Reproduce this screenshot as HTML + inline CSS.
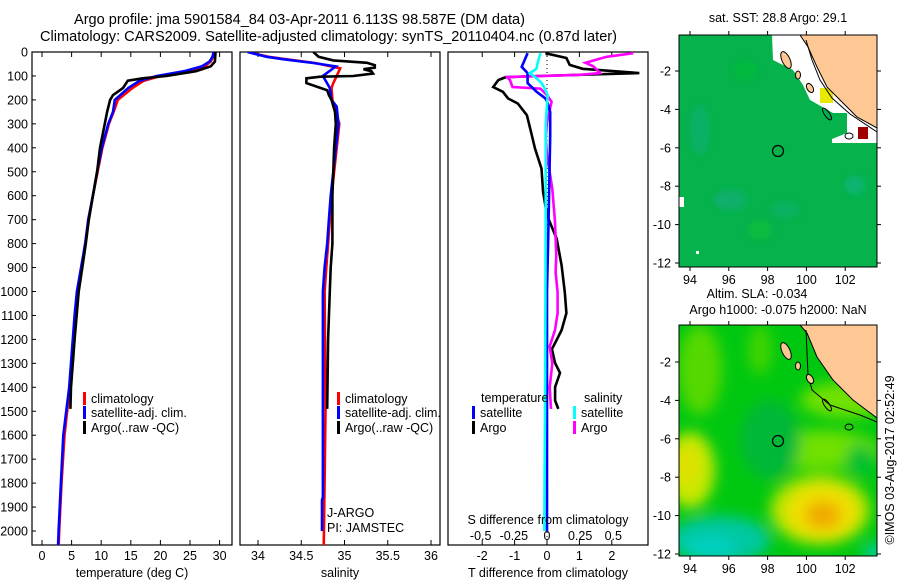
<!DOCTYPE html>
<html><head><meta charset="utf-8"><style>
html,body{margin:0;padding:0;background:#fff;}
svg{display:block;font-family:"Liberation Sans",sans-serif;}
text{fill:#000;font-size:12.5px;}
</style></head><body>
<svg id="fig" width="900" height="580" viewBox="0 0 900 580" xmlns="http://www.w3.org/2000/svg">
<defs>
<filter id="blur6" x="-50%" y="-50%" width="200%" height="200%"><feGaussianBlur stdDeviation="7"/></filter>
<filter id="blur3" x="-50%" y="-50%" width="200%" height="200%"><feGaussianBlur stdDeviation="3"/></filter>
<clipPath id="clipM1"><rect x="679" y="35" width="198" height="232"/></clipPath>
<clipPath id="clipM2"><rect x="679" y="325" width="198" height="231"/></clipPath>
<clipPath id="clipP1"><rect x="32" y="52" width="200" height="493"/></clipPath>
<clipPath id="clipP2"><rect x="240" y="52" width="200" height="493"/></clipPath>
<clipPath id="clipP3"><rect x="448" y="52" width="200" height="493"/></clipPath>
</defs>
<text x="74" y="24" textLength="451" lengthAdjust="spacingAndGlyphs" style="font-size:14.5px">Argo profile: jma 5901584_84 03-Apr-2011 6.113S 98.587E (DM data)</text>
<text x="40" y="41" textLength="577" lengthAdjust="spacingAndGlyphs" style="font-size:14.5px">Climatology: CARS2009. Satellite-adjusted climatology: synTS_20110404.nc (0.87d later)</text>

<!-- Map 1 -->
<g>
<text x="778" y="22" text-anchor="middle">sat. SST: 28.8 Argo: 29.1</text>
<g clip-path="url(#clipM1)">
<rect x="679" y="35" width="198" height="232" fill="#05b24c"/>
<g filter="url(#blur3)" opacity="0.7">
<ellipse cx="700" cy="130" rx="10" ry="25" fill="#10b070"/>
<ellipse cx="730" cy="200" rx="16" ry="10" fill="#12ae78"/>
<ellipse cx="785" cy="210" rx="14" ry="8" fill="#0fb06a"/>
<ellipse cx="855" cy="185" rx="10" ry="9" fill="#10b682"/>
<ellipse cx="760" cy="230" rx="12" ry="10" fill="#09c03a"/>
<ellipse cx="745" cy="70" rx="12" ry="10" fill="#06bc38"/>
</g>
<polygon points="772,35 773,60 793,70 803,85 810,100 833,113 847,113 847,133 832,139 832,143 877,143 877,35" fill="#ffffff"/>
<rect x="820" y="88" width="13" height="15" fill="#e8e800"/>
<rect x="858" y="127" width="10" height="12" fill="#a00000"/>
<polygon points="800,35 808,47 817,67 827,87 840,100 857,117 877,128 877,35" fill="#fdc894" stroke="#000" stroke-width="1"/>
<path d="M806,40 L812,60 L820,80 L832,98 L850,114 L877,132" fill="none" stroke="#000" stroke-width="1"/>
<ellipse cx="786" cy="60" rx="4" ry="9" transform="rotate(-25 786 60)" fill="#fdc894" stroke="#000" stroke-width="1"/>
<ellipse cx="798" cy="75" rx="2.5" ry="4" fill="#fdc894" stroke="#000" stroke-width="1"/>
<ellipse cx="810" cy="88" rx="3" ry="5" transform="rotate(-30 810 88)" fill="#fdc894" stroke="#000" stroke-width="1"/>
<ellipse cx="827" cy="114" rx="2.5" ry="7" transform="rotate(-35 827 114)" fill="#00b050" stroke="#000" stroke-width="1"/>
<ellipse cx="849" cy="136" rx="4" ry="3" fill="#fff" stroke="#000" stroke-width="1"/>
<rect x="679" y="197" width="5" height="10" fill="#fff"/>
<rect x="696" y="251" width="3" height="3" fill="#fff"/>
<circle cx="778" cy="151" r="5.5" fill="none" stroke="#000" stroke-width="1.2"/>
</g>
<rect x="679" y="35" width="198" height="232" fill="none" stroke="#000" stroke-width="1"/>
<g id="m1ticks"></g>
</g>

<!-- Map 2 -->
<g>
<text x="757" y="298" text-anchor="middle">Altim. SLA: -0.034</text>
<text x="778" y="314" text-anchor="middle">Argo h1000: -0.075 h2000: NaN</text>
<g clip-path="url(#clipM2)">
<rect x="679" y="325" width="198" height="231" fill="#00c810"/>
<g filter="url(#blur6)">
<ellipse cx="700" cy="370" rx="22" ry="45" fill="#55d800"/>
<ellipse cx="760" cy="350" rx="12" ry="25" fill="#40d400"/>
<ellipse cx="845" cy="400" rx="45" ry="18" fill="#70e000"/>
<ellipse cx="820" cy="450" rx="60" ry="20" fill="#70e000"/>
<ellipse cx="770" cy="440" rx="30" ry="40" fill="#00b838"/>
<ellipse cx="860" cy="460" rx="14" ry="16" fill="#00c030"/>
<ellipse cx="690" cy="470" rx="25" ry="38" fill="#c8e800"/>
<ellipse cx="686" cy="465" rx="12" ry="20" fill="#e0e000"/>
<ellipse cx="820" cy="510" rx="50" ry="35" fill="#b8e400"/>
<ellipse cx="822" cy="512" rx="36" ry="26" fill="#f0e000"/>
<ellipse cx="823" cy="515" rx="18" ry="14" fill="#f0a800"/>
<ellipse cx="720" cy="540" rx="50" ry="24" fill="#00c8a0"/>
<ellipse cx="710" cy="548" rx="26" ry="12" fill="#00d0c0"/>
<ellipse cx="875" cy="552" rx="12" ry="8" fill="#00d0b0"/>
</g>
<polygon points="800,325 807,333 817,357 833,380 853,400 877,418 877,325" fill="#fdc894" stroke="#000" stroke-width="1"/>
<path d="M806,330 L808,375 L812,390 L830,405 L860,415 L877,422" fill="none" stroke="#000" stroke-width="1"/>
<ellipse cx="786" cy="351" rx="4" ry="9" transform="rotate(-25 786 351)" fill="#fdc894" stroke="#000" stroke-width="1"/>
<ellipse cx="798" cy="366" rx="2.5" ry="4" fill="#fdc894" stroke="#000" stroke-width="1"/>
<ellipse cx="810" cy="379" rx="3" ry="5" transform="rotate(-30 810 379)" fill="#fdc894" stroke="#000" stroke-width="1"/>
<ellipse cx="827" cy="405" rx="2.5" ry="7" transform="rotate(-35 827 405)" fill="none" stroke="#000" stroke-width="1"/>
<ellipse cx="849" cy="427" rx="4" ry="3" fill="none" stroke="#000" stroke-width="1"/>
<circle cx="778" cy="441" r="5.5" fill="none" stroke="#000" stroke-width="1.2"/>
</g>
<rect x="679" y="325" width="198" height="231" fill="none" stroke="#000" stroke-width="1"/>
<g id="m2ticks"></g>
</g>
<text transform="translate(894,460) rotate(-90)" text-anchor="middle">©IMOS 03-Aug-2017 02:52:49</text>

<g id="plots"></g>
</svg>
<script>
// ---- data ----
const depthTicks = [0,100,200,300,400,500,600,700,800,900,1000,1100,1200,1300,1400,1500,1600,1700,1800,1900,2000];
const tempTicks = [0,5,10,15,20,25,30];
const salTicks = [34,34.5,35,35.5,36];
const salTickLabels = ["34","34.5","35","35.5","36"];
const tdTicks = [-2,-1,0,1,2];
const sdTicks = [-0.5,-0.25,0,0.25,0.5];
const sdTickLabels = ["-0.5","-0.25","0","0.25","0.5"];

const tempDepth = [0,20,40,60,80,100,120,150,200,250,300,400,500,600,700,800,900,1000,1100,1200,1300,1400,1600,1800,2000,2070];
const tempSat = [29,28.8,28.3,27,24,19.4,16.5,14.6,12.3,12,11.2,10.1,9.3,8.6,7.8,7.3,6.6,5.9,5.5,5.2,4.9,4.6,3.6,3.2,2.8,2.7];
const tempClim = [29.1,28.9,28.5,27.5,25,20,17.2,15.3,12.8,12.1,11.3,10.2,9.4,8.6,7.9,7.3,6.7,6.0,5.6,5.3,5.0,4.7,3.8,3.3,2.9,2.8];
const argoTDepth = [0,40,60,80,100,110,120,150,180,200,250,300,400,500,600,700,800,900,1000,1200,1400,1490];
const argoT = [29.3,29.2,28.5,26,21,17,14.5,13.7,12,11.5,11,10.6,9.8,9.3,8.6,7.9,7.4,6.8,6.2,5.5,4.9,4.8];

const salSatDepth = [0,20,30,46,60,100,150,200,228,300,400,500,600,700,800,900,1000,1500,1860,1870,2000];
const salSat = [33.88,34.1,34.29,34.64,34.9,34.75,34.83,34.85,34.91,34.93,34.9,34.87,34.84,34.82,34.8,34.77,34.75,34.75,34.75,34.74,34.74];
const salClimDepth = [0,20,30,46,68,100,130,150,200,300,400,500,600,700,800,900,1000,1500,2080];
const salClim = [33.88,34.12,34.32,34.66,34.95,34.91,34.87,34.85,34.86,34.94,34.91,34.88,34.85,34.83,34.81,34.79,34.77,34.78,34.76];
const argoSDepth = [0,20,35,45,55,65,72,80,90,100,103,110,130,150,160,180,200,250,300,400,500,600,700,800,900,1000,1200,1490];
const argoS = [34.64,34.7,34.87,35.26,35.35,35.35,35.22,35.31,35.33,35.1,34.72,34.56,34.56,34.72,34.8,34.82,34.85,34.89,34.9,34.88,34.87,34.86,34.86,34.86,34.84,34.83,34.81,34.8];

const dTSatDepth = [5,62,88,130,166,193,205,250,350,700,1000,1500,2000];
const dTSat = [-0.6,-0.78,-0.6,-0.6,-0.32,-0.06,0,0.1,0.1,0.05,0,0,0];
const dTArgoDepth = [5,25,54,70,88,100,105,117,146,166,194,215,264,320,403,487,585,682,780,891,1003,1090,1161,1215,1240,1299,1340,1399,1455,1490];
const dTArgo = [-0.05,0.6,0.7,1.1,2.85,-0.25,-1.27,-1.5,-1.66,-1.36,-1.2,-0.9,-0.62,-0.52,-0.37,-0.17,-0.12,0,0.3,0.45,0.55,0.6,0.45,0.25,0.15,0.25,0.4,0.25,0.25,0.35];
const dSSatDepth = [5,45,70,88,105,130,150,180,300,700,1500,2000];
const dSSat = [-0.05,-0.07,-0.08,-0.13,-0.09,-0.04,-0.02,0.005,-0.01,-0.01,-0.015,-0.02];
const dSArgoDepth = [5,20,45,60,76,88,95,105,117,146,153,180,208,292,362,431,570,710,850,920,1003,1090,1161,1229,1300,1400,1490];
const dSArgo = [0.65,0.45,0.29,0.35,0.38,0.4,0.25,-0.3,-0.28,-0.26,-0.05,0,0.035,0,-0.01,0,0.04,0.06,0.07,0.065,0.08,0.08,0.06,0.02,0.04,0.02,0.03];

const lonTicks = [94,96,98,100,102];
const latTicks = [-2,-4,-6,-8,-10,-12];

// ---- scales ----
const NS = "http://www.w3.org/2000/svg";
const yD = d => 52 + 0.2395 * d;
const xT = t => 42 + 5.92 * t;
const xS = s => 258 + 86.5 * (s - 34);
const xDT = v => 547 + 32.4 * v;
const xDS = v => 547 + 132.6 * v;
const lonX = lon => 690 + 19.4 * (lon - 94);
const latY1 = lat => 71 + (-2 - lat) * 19.2;
const latY2 = lat => 362 + (-2 - lat) * 19.2;

const root = document.getElementById('plots');
function mk(tag, attrs, parent) {
  const e = document.createElementNS(NS, tag);
  for (const k in attrs) e.setAttribute(k, attrs[k]);
  (parent || root).appendChild(e);
  return e;
}
function txt(x, y, s, anchor, parent) {
  const t = mk('text', {x: x, y: y, 'text-anchor': anchor || 'middle'}, parent);
  t.textContent = s;
  return t;
}
function series(depths, vals, xf, color, clip, name) {
  const pts = depths.map((d, i) => xf(vals[i]).toFixed(1) + ',' + yD(d).toFixed(1)).join(' ');
  const p = mk('polyline', {points: pts, fill: 'none', stroke: color, 'stroke-width': 2.6, 'stroke-linejoin': 'miter', 'clip-path': 'url(#' + clip + ')'});
  
  
}
function frame(x, name) {
  const r = mk('rect', {x: x, y: 52, width: 200, height: 493, fill: 'none', stroke: '#000', 'stroke-width': 1.2});
  
  
}
function xTicks(vals, labels, xf) {
  vals.forEach((v, i) => {
    const x = xf(v);
    mk('line', {x1: x, y1: 52, x2: x, y2: 57, stroke: '#000'});
    mk('line', {x1: x, y1: 545, x2: x, y2: 540, stroke: '#000'});
    const t = txt(x, 560, labels[i]);
    
    
  });
}

// Panel 1
frame(32, 'temperature-panel');
depthTicks.forEach(d => {
  mk('line', {x1: 32, y1: yD(d), x2: 36, y2: yD(d), stroke: '#000'});
  const t = txt(28, yD(d) + 4.5, String(d), 'end');
  
  
});
xTicks(tempTicks, tempTicks.map(String), xT);
series(tempDepth, tempClim, xT, '#ff0000', 'clipP1', 'temp-climatology-line');
series(tempDepth, tempSat, xT, '#0000ff', 'clipP1', 'temp-satellite-line');
series(argoTDepth, argoT, xT, '#000000', 'clipP1', 'temp-argo-line');
const xt1 = txt(132, 577, 'temperature (deg C)');



// Panel 2
frame(240, 'salinity-panel');
xTicks(salTicks, salTickLabels, xS);
series(salClimDepth, salClim, xS, '#ff0000', 'clipP2', 'sal-climatology-line');
series(salSatDepth, salSat, xS, '#0000ff', 'clipP2', 'sal-satellite-line');
series(argoSDepth, argoS, xS, '#000000', 'clipP2', 'sal-argo-line');
const xt2 = txt(340, 577, 'salinity');


const ja = txt(327, 517, 'J-ARGO', 'start');


const pi = txt(327, 532, 'PI: JAMSTEC', 'start');



// Panel 3
frame(448, 'difference-panel');
xTicks(tdTicks, tdTicks.map(String), xDT);
mk('line', {x1: xDT(0), y1: 52, x2: xDT(0), y2: 545, stroke: '#000', 'stroke-width': 1, 'stroke-dasharray': '1,3'});
series(dTArgoDepth, dTArgo, xDT, '#000000', 'clipP3', 'tdiff-argo-line');
series(dSArgoDepth, dSArgo, xDS, '#ff00ff', 'clipP3', 'sdiff-argo-line');
series(dTSatDepth, dTSat, xDT, '#0000ff', 'clipP3', 'tdiff-satellite-line');
series(dSSatDepth, dSSat, xDS, '#00ffff', 'clipP3', 'sdiff-satellite-line');
sdTicks.forEach((v, i) => {
  const t = txt(xDS(v), 540, sdTickLabels[i]);
  
  
});
const sdt = txt(548, 524, 'S difference from climatology');


const tdt = txt(548, 577, 'T difference from climatology');



// Legends
function legendItem(x, y, color, label, name) {
  const b = mk('rect', {x: x, y: y - 10, width: 3, height: 13, fill: color});
  
  
  const t = txt(x + 8, y + 1, label, 'start');
  
  
}
legendItem(83, 402, '#ff0000', 'climatology', 'legend-climatology');
legendItem(83, 416, '#0000ff', 'satellite-adj. clim.', 'legend-satellite-adj');
legendItem(83, 431, '#000000', 'Argo(..raw -QC)', 'legend-argo');
legendItem(337, 402, '#ff0000', 'climatology', 'legend-climatology-sal');
legendItem(337, 416, '#0000ff', 'satellite-adj. clim.', 'legend-satellite-adj-sal');
legendItem(337, 431, '#000000', 'Argo(..raw -QC)', 'legend-argo-sal');
const lt = txt(481, 402, 'temperature', 'start');


const ls = txt(584, 402, 'salinity', 'start');


legendItem(472, 416, '#0000ff', 'satellite', 'legend-t-satellite');
legendItem(472, 431, '#000000', 'Argo', 'legend-t-argo');
legendItem(573, 416, '#00ffff', 'satellite', 'legend-s-satellite');
legendItem(573, 431, '#ff00ff', 'Argo', 'legend-s-argo');

// Map ticks
function mapTicks(gid, top, bottom, latY) {
  const g = document.getElementById(gid);
  lonTicks.forEach(lon => {
    const x = lonX(lon);
    mk('line', {x1: x, y1: top, x2: x, y2: top - 4, stroke: '#000'}, g);
    mk('line', {x1: x, y1: bottom, x2: x, y2: bottom + 4, stroke: '#000'}, g);
    const t = txt(x, bottom + 17, String(lon), 'middle', g);
    
    
  });
  latTicks.forEach(lat => {
    const y = latY(lat);
    mk('line', {x1: 679, y1: y, x2: 675, y2: y, stroke: '#000'}, g);
    mk('line', {x1: 877, y1: y, x2: 881, y2: y, stroke: '#000'}, g);
    const t = txt(671, y + 4.5, String(lat), 'end', g);
    
    
  });
}
mapTicks('m1ticks', 35, 267, latY1);
mapTicks('m2ticks', 325, 556, latY2);
</script>
</body></html>
